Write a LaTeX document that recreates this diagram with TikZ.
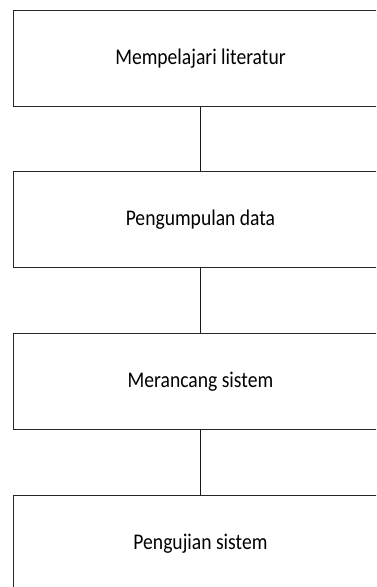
\documentclass[tikz,border=0pt]{standalone}
\usepackage{fontspec}
\setmainfont{Carlito}
\newcommand{\boxtext}[1]{\scalebox{0.98}[1.12]{#1}}
\begin{document}
\begin{tikzpicture}[x=1pt,y=1pt,
  stepbox/.style={draw=black!85,line width=0.9pt,minimum width=374pt,minimum height=96pt,inner sep=0pt,anchor=north west,font=\fontsize{20}{24}\selectfont},
  conn/.style={draw=black!90,line width=0.8pt}]
\useasboundingbox (0,0) rectangle (376,587);
\begin{scope}
\clip (0,0) rectangle (376,587);
\node[stepbox] (b1) at (13,577) {\boxtext{Mempelajari literatur}};
\node[stepbox] (b2) at (13,416) {\boxtext{Pengumpulan data}};
\node[stepbox] (b3) at (13,254) {\boxtext{Merancang sistem}};
\node[stepbox] (b4) at (13,92) {\boxtext{Pengujian sistem}};
\draw[conn] (b1.south -| 200,0) -- (b2.north -| 200,0);
\draw[conn] (b2.south -| 200,0) -- (b3.north -| 200,0);
\draw[conn] (b3.south -| 200,0) -- (b4.north -| 200,0);
\end{scope}
\end{tikzpicture}
\end{document}
